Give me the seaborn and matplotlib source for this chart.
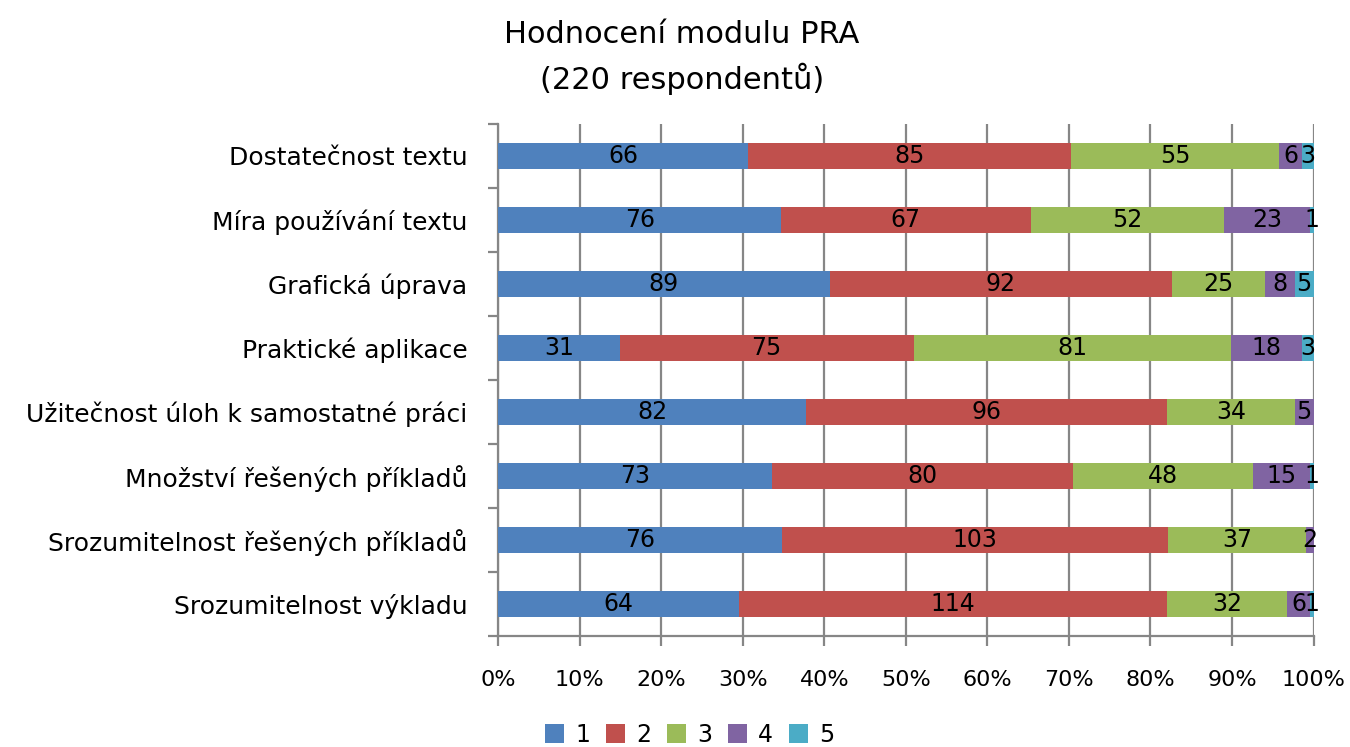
import seaborn as sns
import matplotlib.pyplot as plt
import pandas as pd
from matplotlib.ticker import FixedLocator, PercentFormatter
from matplotlib.patches import Patch

# data
categories = [
    "Dostatečnost textu",
    "Míra používání textu",
    "Grafická úprava",
    "Praktické aplikace",
    "Užitečnost úloh k samostatné práci",
    "Množství řešených příkladů",
    "Srozumitelnost řešených příkladů",
    "Srozumitelnost výkladu",
]
levels = ["1", "2", "3", "4", "5"]
counts_1 = [66, 76, 89, 31, 82, 73, 76, 64]
counts_2 = [85, 67, 92, 75, 96, 80, 103, 114]
counts_3 = [55, 52, 25, 81, 34, 48, 37, 32]
counts_4 = [6, 23, 8, 18, 5, 15, 2, 6]
counts_5 = [3, 1, 5, 3, 0, 1, 0, 1]

colors = ["#4F81BD", "#C0504D", "#9BBB59", "#8064A2", "#4BACC6"]
title = "Hodnocení modulu PRA\n(220 respondentů)"

df = pd.DataFrame({"kategorie": categories, "1": counts_1, "2": counts_2,
                   "3": counts_3, "4": counts_4, "5": counts_5})
totals = df[levels].sum(axis=1)
pct = df[levels].div(totals, axis=0) * 100
cum = pct.cumsum(axis=1)

sns.set_theme(style="white")
plt.rcParams["font.family"] = ["DejaVu Sans"]
plt.rcParams["text.color"] = "black"

fig, ax = plt.subplots(figsize=(13.5, 7.47), dpi=100)
fig.subplots_adjust(left=0.369, right=0.973, top=0.834, bottom=0.149)

# stacked bars: draw cumulative totals from the last level backwards
for i in range(len(levels) - 1, -1, -1):
    lvl = levels[i]
    sns.barplot(x=cum[lvl].values, y=df["kategorie"], orient="h",
                color=colors[i], width=0.41, saturation=1, linewidth=0,
                ax=ax, zorder=3)

# count labels in the middle of each segment
for row in range(len(categories)):
    for i, lvl in enumerate(levels):
        val = df.loc[row, lvl]
        if val == 0:
            continue
        mid = cum.loc[row, lvl] - pct.loc[row, lvl] / 2
        ax.text(mid, row, str(val), ha="center", va="center",
                fontsize=17, color="black", zorder=4)

ax.set_xlim(0, 100)
ax.set_ylim(len(categories) - 0.5, -0.5)
ax.xaxis.set_major_locator(FixedLocator(range(0, 101, 10)))
ax.xaxis.set_major_formatter(PercentFormatter(decimals=0))
ax.grid(axis="x", color="#868686", linewidth=1.6, zorder=0)
ax.set_axisbelow(True)

ax.yaxis.set_minor_locator(FixedLocator([k - 0.5 for k in range(len(categories) + 1)]))
ax.tick_params(axis="y", which="major", length=0, labelsize=18, pad=22,
               labelcolor="black")
ax.tick_params(axis="y", which="minor", left=True, length=7, width=1.6, color="#868686")
ax.tick_params(axis="x", bottom=True, length=7, width=1.6, color="#868686",
               labelsize=16, pad=18, labelcolor="black")
ax.set_xlabel("")
ax.set_ylabel("")

for side in ["top", "right"]:
    ax.spines[side].set_visible(False)
for side in ["left", "bottom"]:
    ax.spines[side].set_color("#868686")
    ax.spines[side].set_linewidth(1.6)

fig.text(0.505, 0.923, title, ha="center", va="center", fontsize=22,
         linespacing=1.5, color="black")

handles = [Patch(facecolor=c, edgecolor="none") for c in colors]
fig.legend(handles, levels, loc="center", bbox_to_anchor=(0.511, 0.016),
           ncol=5, frameon=False, fontsize=17, handlelength=0.8,
           handleheight=0.85, handletextpad=0.45, columnspacing=0.7,
           borderpad=0)

fig.savefig("out.png", dpi=100)
plt.close(fig)
